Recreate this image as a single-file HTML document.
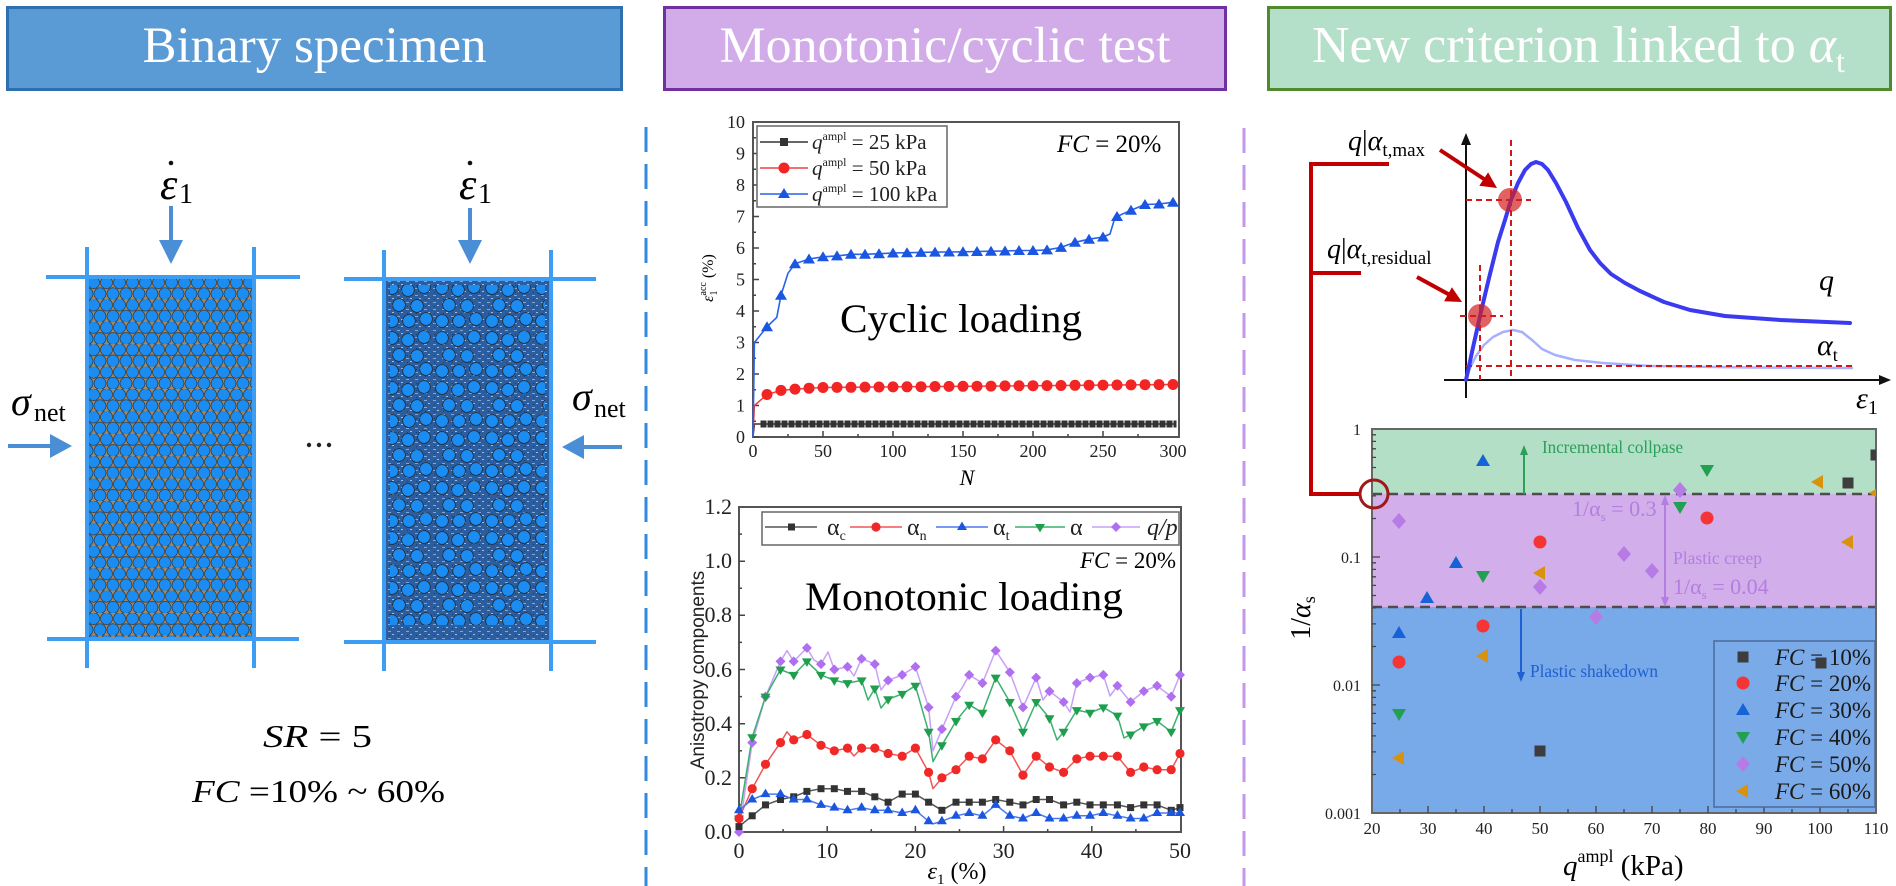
<!DOCTYPE html>
<html><head><meta charset="utf-8"><style>
html,body{margin:0;padding:0;background:#fff;overflow:hidden;}
svg{display:block;}
text{font-family:"Liberation Serif","DejaVu Serif",serif;}
.sans{font-family:"Liberation Sans","DejaVu Sans",sans-serif;}
</style></head><body>
<svg width="1896" height="886" viewBox="0 0 1896 886" xmlns="http://www.w3.org/2000/svg">
<defs>
 <pattern id="balls1" patternUnits="userSpaceOnUse" x="87" y="277" width="13" height="22.4">
  <rect width="13" height="22.4" fill="#a08866"/>
  <circle cx="6.5" cy="5.6" r="6" fill="#1b8cf2" stroke="#2a2a2a" stroke-width="0.6"/>
  <circle cx="0" cy="16.8" r="6" fill="#1b8cf2" stroke="#2a2a2a" stroke-width="0.6"/>
  <circle cx="13" cy="16.8" r="6" fill="#1b8cf2" stroke="#2a2a2a" stroke-width="0.6"/>
 </pattern>
 <pattern id="tex2" patternUnits="userSpaceOnUse" width="9" height="7">
  <rect width="9" height="7" fill="#2c5e9f"/>
  <rect x="1" y="1" width="3" height="1" fill="#7ea6d6"/>
  <rect x="5" y="4" width="2" height="1" fill="#9dbce2"/>
  <rect x="2" y="5" width="1" height="1" fill="#173e70"/>
 </pattern>
 <pattern id="balls2" patternUnits="userSpaceOnUse" x="384" y="280" width="50" height="50">
  <g fill="#1b8cf2" stroke="#1e1e1e" stroke-width="0.7">
   <circle cx="8" cy="8" r="6.3"/><circle cx="24" cy="10" r="6.3"/><circle cx="40" cy="7" r="6.3"/>
   <circle cx="15" cy="25" r="6.3"/><circle cx="33" cy="26" r="6.3"/>
   <circle cx="8" cy="41" r="6.3"/><circle cx="25" cy="41" r="6.3"/><circle cx="42" cy="39" r="6.3"/>
  </g>
 </pattern>
 <clipPath id="rc"><rect x="1372" y="429" width="504" height="384"/></clipPath>
 <marker id="tCi" markerUnits="userSpaceOnUse" markerWidth="12" markerHeight="12" refX="6" refY="6" overflow="visible"><circle cx="6" cy="6" r="5.5" fill="#f22424"/></marker>
 <marker id="tTr" markerUnits="userSpaceOnUse" markerWidth="12" markerHeight="12" refX="6" refY="6" overflow="visible"><path d="M6,0.5 L12,10.5 L0,10.5Z" fill="#1a56e0"/></marker>
 <marker id="mC" markerUnits="userSpaceOnUse" markerWidth="8" markerHeight="8" refX="3.5" refY="3.5" overflow="visible"><rect x="0" y="0" width="7" height="7" fill="#333"/></marker>
 <marker id="mN" markerUnits="userSpaceOnUse" markerWidth="10" markerHeight="10" refX="5" refY="5" overflow="visible"><circle cx="5" cy="5" r="4.6" fill="#f02828"/></marker>
 <marker id="mT" markerUnits="userSpaceOnUse" markerWidth="10" markerHeight="10" refX="5" refY="5.5" overflow="visible"><path d="M5,0 L10,8.5 L0,8.5Z" fill="#1a56e0"/></marker>
 <marker id="mA" markerUnits="userSpaceOnUse" markerWidth="10" markerHeight="10" refX="5" refY="3.5" overflow="visible"><path d="M5,9 L10,0.5 L0,0.5Z" fill="#1f9e4e"/></marker>
 <marker id="mQ" markerUnits="userSpaceOnUse" markerWidth="10" markerHeight="10" refX="5" refY="5" overflow="visible"><path d="M5,0 L10,5 L5,10 L0,5Z" fill="#b06ef0"/></marker>
</defs>

<!-- Headers -->
<rect x="7.5" y="7.5" width="614" height="82" fill="#5b9bd5" stroke="#2e6fb0" stroke-width="3"/>
<text x="314.5" y="62" font-size="51" fill="#fff" text-anchor="middle" textLength="344" lengthAdjust="spacingAndGlyphs">Binary specimen</text>
<rect x="664.5" y="7.5" width="561" height="82" fill="#d1ace9" stroke="#7030a0" stroke-width="3"/>
<text x="945" y="62" font-size="51" fill="#fff" text-anchor="middle" textLength="451" lengthAdjust="spacingAndGlyphs">Monotonic/cyclic test</text>
<rect x="1268.5" y="7.5" width="622" height="82" fill="#b4dfc8" stroke="#4f8a2e" stroke-width="3"/>
<text x="1312" y="62" font-size="52" fill="#fff">New criterion linked to <tspan font-style="italic">α</tspan><tspan font-size="32" dy="10">t</tspan></text>

<!-- Left panel: specimens -->
<rect x="87" y="277" width="167" height="362" fill="url(#balls1)"/>
<rect x="384" y="279" width="167" height="363" fill="url(#tex2)"/>
<rect x="390" y="285" width="155" height="340" fill="url(#balls2)"/>
<g stroke="#3d9df3" stroke-width="4" fill="none">
 <line x1="46" y1="277" x2="300" y2="277"/>
 <line x1="47" y1="639" x2="299" y2="639"/>
 <line x1="87" y1="247" x2="87" y2="668"/>
 <line x1="254" y1="247" x2="254" y2="668"/>
 <line x1="344" y1="279" x2="596" y2="279"/>
 <line x1="344" y1="642" x2="596" y2="642"/>
 <line x1="384" y1="250" x2="384" y2="671"/>
 <line x1="551" y1="250" x2="551" y2="671"/>
</g>
<!-- arrows -->
<g fill="#4a8fd6" stroke="#4a8fd6">
 <line x1="171" y1="206" x2="171" y2="242" stroke-width="4"/>
 <path d="M159,240 L183,240 L171,264Z" stroke="none"/>
 <line x1="470" y1="208" x2="470" y2="242" stroke-width="4"/>
 <path d="M458,240 L482,240 L470,264Z" stroke="none"/>
 <line x1="8" y1="446" x2="52" y2="446" stroke-width="4"/>
 <path d="M50,434 L50,458 L72,446Z" stroke="none"/>
 <line x1="622" y1="447" x2="582" y2="447" stroke-width="4"/>
 <path d="M584,435 L584,459 L562,447Z" stroke="none"/>
</g>
<!-- epsilon dot labels -->
<text x="160" y="199" font-size="44" font-style="italic">ε</text><text x="179" y="203" font-size="28">1</text>
<circle cx="171" cy="163" r="2.3" fill="#111"/>
<text x="459" y="199" font-size="44" font-style="italic">ε</text><text x="478" y="203" font-size="28">1</text>
<circle cx="470" cy="163" r="2.3" fill="#111"/>
<text x="11" y="415" font-size="40" font-style="italic">σ</text><text x="34" y="421" font-size="26">net</text>
<text x="572" y="410" font-size="40" font-style="italic">σ</text><text x="594" y="417" font-size="26">net</text>
<g fill="#222"><circle cx="309" cy="445" r="2.2"/><circle cx="319" cy="445" r="2.2"/><circle cx="329" cy="445" r="2.2"/></g>
<text x="263" y="747" font-size="32" textLength="109" lengthAdjust="spacingAndGlyphs"><tspan font-style="italic">SR</tspan> = 5</text>
<text x="192" y="802" font-size="32" textLength="253" lengthAdjust="spacingAndGlyphs"><tspan font-style="italic">FC</tspan> =10% ~ 60%</text>

<!-- separators -->
<line x1="646" y1="127" x2="646" y2="886" stroke="#2f8ae0" stroke-width="3" stroke-dasharray="25 12"/>
<line x1="1244" y1="128" x2="1244" y2="886" stroke="#c497ea" stroke-width="3" stroke-dasharray="25 12"/>

<!-- Top middle chart -->
<rect x="753" y="122" width="426" height="315" fill="#fff" stroke="#555" stroke-width="2"/>
<path d="M753,437h6M753,405.5h6M753,374h6M753,342.5h6M753,311h6M753,279.5h6M753,248h6M753,216.5h6M753,185h6M753,153.5h6
M753,421.25h3M753,389.75h3M753,358.25h3M753,326.75h3M753,295.25h3M753,263.75h3M753,232.25h3M753,200.75h3M753,169.25h3M753,137.75h3
M823,437v-6M893,437v-6M963,437v-6M1033,437v-6M1103,437v-6M788,437v-3M858,437v-3M928,437v-3M998,437v-3M1068,437v-3M1138,437v-3" stroke="#444" stroke-width="1.5"/>
<g font-size="18" text-anchor="end" fill="#222">
 <text x="745" y="443">0</text><text x="745" y="411.5">1</text><text x="745" y="380">2</text><text x="745" y="348.5">3</text>
 <text x="745" y="317">4</text><text x="745" y="285.5">5</text><text x="745" y="254">6</text><text x="745" y="222.5">7</text>
 <text x="745" y="191">8</text><text x="745" y="159.5">9</text><text x="745" y="128">10</text>
</g>
<g font-size="18" text-anchor="middle" fill="#222">
 <text x="753" y="457">0</text><text x="823" y="457">50</text><text x="893" y="457">100</text><text x="963" y="457">150</text>
 <text x="1033" y="457">200</text><text x="1103" y="457">250</text><text x="1173" y="457">300</text>
</g>
<text x="967" y="485" font-size="22" font-style="italic" text-anchor="middle">N</text>
<text transform="translate(713,278) rotate(-90)" font-size="16" text-anchor="middle"><tspan font-style="italic">ε</tspan><tspan font-size="10" dy="4">1</tspan><tspan font-size="10" dx="-5" dy="-11">acc</tspan><tspan dy="7"> (%)</tspan></text>
<text x="840" y="332" font-size="40" textLength="242" lengthAdjust="spacingAndGlyphs">Cyclic loading</text>
<text x="1057" y="152" font-size="25"><tspan font-style="italic">FC</tspan> = 20%</text>
<!-- series -->
<polyline points="753,437 754.4,424 1176,424" fill="none" stroke="#333" stroke-width="1.5"/>
<line x1="760.5" y1="424" x2="1176.5" y2="424" stroke="#333" stroke-width="7" stroke-dasharray="6 1"/>
<polyline points="753,437 754.4,405.5 767,394.5 781,390.4 795,389.1 809,388.2 823,387.5 1173,384.5" fill="none" stroke="#f04040" stroke-width="1.5"/>
<polyline points="767,394.5 781,390.4 795,389.1 809,388.2 823,387.5 837,387.4 851,387.3 865,387.1 879,387 893,386.9 907,386.8 921,386.7 935,386.5 949,386.4 963,386.3 977,386.2 991,386.1 1005,385.9 1019,385.8 1033,385.7 1047,385.6 1061,385.5 1075,385.3 1089,385.2 1103,385.1 1117,385 1131,384.9 1145,384.7 1159,384.6 1173,384.5" fill="none" stroke="none" marker-start="url(#tCi)" marker-mid="url(#tCi)" marker-end="url(#tCi)"/>
<polyline points="753,437 754.4,342.5 767,326.75 776.8,317.3 781,295.25 788,273.2 795,263.75 809,259 823,256.8 837,255.9 851,254.3 865,254.3 879,253.7 893,253 907,252.7 921,252.4 935,252.1 949,252 963,251.8 977,251.5 991,251.2 1005,251 1019,250.5 1033,250.5 1047,249.9 1061,247.4 1075,242.3 1089,239.2 1103,237 1110,234 1114.2,220 1117,216.5 1131,210.2 1145,204.5 1159,204 1173,202.3" fill="none" stroke="#2a62e8" stroke-width="1.6"/>
<polyline points="767,326.75 781,295.25 795,263.75 809,259 823,256.8 837,255.9 851,254.3 865,254.3 879,253.7 893,253 907,252.7 921,252.4 935,252.1 949,252 963,251.8 977,251.5 991,251.2 1005,251 1019,250.5 1033,250.5 1047,249.9 1061,247.4 1075,242.3 1089,239.2 1103,237 1117,216.5 1131,210.2 1145,204.5 1159,204 1173,202.3" fill="none" stroke="none" marker-start="url(#tTr)" marker-mid="url(#tTr)" marker-end="url(#tTr)"/>
<!-- legend -->
<rect x="757" y="126" width="190" height="81" fill="#fff" stroke="#666" stroke-width="1.5"/>
<line x1="760" y1="142" x2="808" y2="142" stroke="#333" stroke-width="1.5"/><rect x="780" y="138" width="8" height="8" fill="#333"/>
<line x1="760" y1="168" x2="808" y2="168" stroke="#f04040" stroke-width="1.5"/><circle cx="784" cy="168" r="5.5" fill="#f22424"/>
<line x1="760" y1="194" x2="808" y2="194" stroke="#2a62e8" stroke-width="1.5"/><path d="M784,188 L790,198 L778,198Z" fill="#1a56e0"/>
<g font-size="21" fill="#222">
 <text x="812" y="149"><tspan font-style="italic">q</tspan><tspan font-size="12" dy="-9">ampl</tspan><tspan dy="9"> = 25 kPa</tspan></text>
 <text x="812" y="175"><tspan font-style="italic">q</tspan><tspan font-size="12" dy="-9">ampl</tspan><tspan dy="9"> = 50 kPa</tspan></text>
 <text x="812" y="201"><tspan font-style="italic">q</tspan><tspan font-size="12" dy="-9">ampl</tspan><tspan dy="9"> = 100 kPa</tspan></text>
</g>

<!-- Bottom middle chart -->
<rect x="739" y="507" width="442" height="325" fill="#fff" stroke="#555" stroke-width="2"/>
<path d="M739,777.8h6M739,723.7h6M739,669.5h6M739,615.3h6M739,561.2h6M739,804.9h3M739,750.8h3M739,696.6h3M739,642.4h3M739,588.3h3M739,534.1h3
M827.2,832v-6M915.4,832v-6M1003.6,832v-6M1091.8,832v-6M783.1,832v-3M871.3,832v-3M959.5,832v-3M1047.7,832v-3M1135.9,832v-3" stroke="#444" stroke-width="1.5"/>
<g font-size="22" text-anchor="end" fill="#222">
 <text x="732" y="839">0.0</text><text x="732" y="785">0.2</text><text x="732" y="731">0.4</text><text x="732" y="677">0.6</text>
 <text x="732" y="622">0.8</text><text x="732" y="568">1.0</text><text x="732" y="514">1.2</text>
</g>
<g font-size="22" text-anchor="middle" fill="#222">
 <text x="739" y="858">0</text><text x="827.2" y="858">10</text><text x="915.4" y="858">20</text><text x="1003.6" y="858">30</text><text x="1091.8" y="858">40</text><text x="1180" y="858">50</text>
</g>
<text x="957" y="879" font-size="24" text-anchor="middle"><tspan font-style="italic">ε</tspan><tspan font-size="15" dy="5">1</tspan><tspan dy="-5"> (%)</tspan></text>
<text class="sans" transform="translate(704,670) rotate(-90)" font-size="19" text-anchor="middle" fill="#222">Anisotropy components</text>
<text x="805" y="610" font-size="40" textLength="318" lengthAdjust="spacingAndGlyphs">Monotonic loading</text>
<text x="1080" y="568" font-size="23"><tspan font-style="italic">FC</tspan> = 20%</text>
<!-- series lines -->
<g fill="none" stroke-width="1.5" stroke-linejoin="round">
<polyline stroke="#c9a0f5" points="739,832 752.2,742.6 765.5,696.6 780.5,661.4 787,650.6 793.7,661.4 806.9,647.9 814,660 821,664.1 828,652 834.3,669.5 847.5,666.8 854,676 861.6,658.7 874.8,664.1 881,690 888.1,680.4 902.2,674.9 915.4,666.8 928.6,707.4 933,750.8 941.9,729.1 956,696.6 962,688 969.2,674.9 982.4,683.1 995.7,650.6 1009.8,672.2 1023,707.4 1036.2,677.6 1043,700 1049.5,691.2 1063.6,702 1070,712 1076.8,683.1 1090,677.6 1103.3,674.9 1110,696 1117.4,685.8 1130.6,702 1143.8,691.2 1157.1,685.8 1171.2,696.6 1180,674.9"/>
<polyline stroke="#3cb070" points="739,818.5 752.2,737.2 765.5,696.6 780.5,669.5 793.7,674.9 806.9,661.4 821,674.9 834.3,680.4 847.5,683.1 861.6,680.4 868,700 874.8,688.5 881,708 888.1,699.3 902.2,693.9 915.4,685.8 928.6,731.8 933,761.6 941.9,745.3 956,721 969.2,704.7 982.4,712.8 995.7,677.6 1009.8,702 1023,731.8 1036.2,702 1049.5,718.3 1057,740 1063.6,731.8 1076.8,710.1 1090,712.8 1103.3,707.4 1117.4,715.6 1124,738 1130.6,734.5 1143.8,726.4 1157.1,721 1171.2,731.8 1180,710.1"/>
<polyline stroke="#f25555" points="739,818.5 752.2,788.7 765.5,764.3 780.5,742.6 787,731.8 793.7,739.9 806.9,734.5 821,745.3 834.3,750.8 847.5,748.1 854,756 861.6,748.1 874.8,748.1 888.1,753.5 902.2,756.2 915.4,748.1 928.6,772.4 933,788.7 941.9,777.8 956,769.7 969.2,756.2 982.4,758.9 995.7,739.9 1009.8,750.8 1023,775.1 1036.2,756.2 1049.5,767 1063.6,772.4 1076.8,758.9 1090,756.2 1103.3,756.2 1117.4,756.2 1130.6,772.4 1143.8,767 1157.1,769.7 1171.2,769.7 1180,753.5"/>
<polyline stroke="#555" points="739,826.6 752.2,815.8 765.5,804.9 780.5,799.5 793.7,796.8 806.9,791.4 821,788.7 834.3,788.7 847.5,791.4 861.6,791.4 874.8,796.8 888.1,802.2 902.2,794.1 915.4,794.1 928.6,802.2 941.9,810.3 956,802.2 969.2,802.2 982.4,802.2 995.7,799.5 1009.8,802.2 1023,804.9 1036.2,799.5 1049.5,799.5 1063.6,804.9 1076.8,802.2 1090,804.9 1103.3,804.9 1117.4,804.9 1130.6,807.6 1143.8,804.9 1157.1,804.9 1171.2,810.3 1180,807.6"/>
<polyline stroke="#4a7af0" points="739,810.3 752.2,799.5 765.5,794.1 780.5,794.1 793.7,799.5 806.9,799.5 821,804.9 834.3,807.6 847.5,810.3 861.6,807.6 874.8,810.3 888.1,810.3 902.2,813 915.4,810.3 928.6,821.2 933,823.9 941.9,821.2 956,815.8 969.2,813 982.4,815.8 995.7,804.9 1009.8,815.8 1023,818.5 1036.2,813 1049.5,818.5 1063.6,818.5 1076.8,815.8 1090,815.8 1103.3,813 1117.4,815.8 1130.6,818.5 1143.8,818.5 1157.1,813 1171.2,813 1180,813"/>
</g>
<g fill="none" stroke="none">
<polyline marker-start="url(#mQ)" marker-mid="url(#mQ)" marker-end="url(#mQ)" points="739,832 752.2,742.6 765.5,696.6 780.5,661.4 793.7,661.4 806.9,647.9 821,664.1 834.3,669.5 847.5,666.8 861.6,658.7 874.8,664.1 888.1,680.4 902.2,674.9 915.4,666.8 928.6,707.4 941.9,729.1 956,696.6 969.2,674.9 982.4,683.1 995.7,650.6 1009.8,672.2 1023,707.4 1036.2,677.6 1049.5,691.2 1063.6,702 1076.8,683.1 1090,677.6 1103.3,674.9 1117.4,685.8 1130.6,702 1143.8,691.2 1157.1,685.8 1171.2,696.6 1180,674.9"/>
<polyline marker-start="url(#mA)" marker-mid="url(#mA)" marker-end="url(#mA)" points="739,818.5 752.2,737.2 765.5,696.6 780.5,669.5 793.7,674.9 806.9,661.4 821,674.9 834.3,680.4 847.5,683.1 861.6,680.4 874.8,688.5 888.1,699.3 902.2,693.9 915.4,685.8 928.6,731.8 941.9,745.3 956,721 969.2,704.7 982.4,712.8 995.7,677.6 1009.8,702 1023,731.8 1036.2,702 1049.5,718.3 1063.6,731.8 1076.8,710.1 1090,712.8 1103.3,707.4 1117.4,715.6 1130.6,734.5 1143.8,726.4 1157.1,721 1171.2,731.8 1180,710.1"/>
<polyline marker-start="url(#mN)" marker-mid="url(#mN)" marker-end="url(#mN)" points="739,818.5 752.2,788.7 765.5,764.3 780.5,742.6 793.7,739.9 806.9,734.5 821,745.3 834.3,750.8 847.5,748.1 861.6,748.1 874.8,748.1 888.1,753.5 902.2,756.2 915.4,748.1 928.6,772.4 941.9,777.8 956,769.7 969.2,756.2 982.4,758.9 995.7,739.9 1009.8,750.8 1023,775.1 1036.2,756.2 1049.5,767 1063.6,772.4 1076.8,758.9 1090,756.2 1103.3,756.2 1117.4,756.2 1130.6,772.4 1143.8,767 1157.1,769.7 1171.2,769.7 1180,753.5"/>
<polyline marker-start="url(#mC)" marker-mid="url(#mC)" marker-end="url(#mC)" points="739,826.6 752.2,815.8 765.5,804.9 780.5,799.5 793.7,796.8 806.9,791.4 821,788.7 834.3,788.7 847.5,791.4 861.6,791.4 874.8,796.8 888.1,802.2 902.2,794.1 915.4,794.1 928.6,802.2 941.9,810.3 956,802.2 969.2,802.2 982.4,802.2 995.7,799.5 1009.8,802.2 1023,804.9 1036.2,799.5 1049.5,799.5 1063.6,804.9 1076.8,802.2 1090,804.9 1103.3,804.9 1117.4,804.9 1130.6,807.6 1143.8,804.9 1157.1,804.9 1171.2,810.3 1180,807.6"/>
<polyline marker-start="url(#mT)" marker-mid="url(#mT)" marker-end="url(#mT)" points="739,810.3 752.2,799.5 765.5,794.1 780.5,794.1 793.7,799.5 806.9,799.5 821,804.9 834.3,807.6 847.5,810.3 861.6,807.6 874.8,810.3 888.1,810.3 902.2,813 915.4,810.3 928.6,821.2 941.9,821.2 956,815.8 969.2,813 982.4,815.8 995.7,804.9 1009.8,815.8 1023,818.5 1036.2,813 1049.5,818.5 1063.6,818.5 1076.8,815.8 1090,815.8 1103.3,813 1117.4,815.8 1130.6,818.5 1143.8,818.5 1157.1,813 1171.2,813 1180,813"/>
</g>
<!-- legend bottom chart -->
<rect x="762" y="512" width="417" height="33" fill="#fff" stroke="#666" stroke-width="1.5"/>
<g stroke-width="1.5">
 <line x1="765" y1="527" x2="817" y2="527" stroke="#555"/><rect x="788" y="523.5" width="7" height="7" fill="#333"/>
 <line x1="850" y1="527" x2="902" y2="527" stroke="#f25555"/><circle cx="876" cy="527" r="4.6" fill="#f02828"/>
 <line x1="936" y1="527" x2="988" y2="527" stroke="#4a7af0"/><path d="M962,521.5 L967,530 L957,530Z" fill="#1a56e0"/>
 <line x1="1015" y1="527" x2="1065" y2="527" stroke="#3cb070"/><path d="M1040,532.5 L1045,524 L1035,524Z" fill="#1f9e4e"/>
 <line x1="1092" y1="527" x2="1140" y2="527" stroke="#c9a0f5"/><path d="M1116,522 L1121,527 L1116,532 L1111,527Z" fill="#b06ef0"/>
</g>
<g font-size="24" fill="#222">
 <text x="827" y="535">α<tspan font-size="14" dy="5">c</tspan></text>
 <text x="907" y="535">α<tspan font-size="14" dy="5">n</tspan></text>
 <text x="993" y="535">α<tspan font-size="14" dy="5">t</tspan></text>
 <text x="1070" y="535">α</text>
 <text x="1147" y="535" font-style="italic">q/p</text>
</g>

<!-- Right panel: schematic -->
<path d="M1389,164 H1311 V494 H1360 M1311,273 H1361" fill="none" stroke="#c00000" stroke-width="4"/>
<g stroke="#111" stroke-width="2" fill="#111">
 <line x1="1466" y1="398" x2="1466" y2="140"/>
 <path d="M1466,133 L1461,145 L1471,145Z" stroke="none"/>
 <line x1="1444" y1="380" x2="1884" y2="380"/>
 <path d="M1891,380 L1879,375 L1879,385Z" stroke="none"/>
</g>
<polyline points="1466,380 1470,368 1476,356 1484,345 1493,337 1503,332 1513,330 1522,332 1532,340 1542,349 1555,355 1575,360 1603,363 1650,366 1750,367.5 1853,368" fill="none" stroke="#a6b0ff" stroke-width="2.5" stroke-linejoin="round"/>
<g stroke="#d01818" stroke-width="2" stroke-dasharray="6 4" fill="none">
 <line x1="1511" y1="140" x2="1511" y2="380"/>
 <line x1="1480" y1="265" x2="1480" y2="380"/>
 <line x1="1466" y1="200" x2="1531" y2="200"/>
 <line x1="1460" y1="316" x2="1503" y2="316"/>
 <line x1="1466" y1="366" x2="1853" y2="366"/>
</g>
<polyline points="1466,380 1472,352 1480,316 1489,278 1498,242 1505,220 1511,200 1518,183 1525,170 1531,164 1536,162 1542,164 1548,170 1556,183 1566,202 1578,228 1590,250 1600,263 1611,274 1625,283 1640,291 1664,302 1690,310 1725,316 1780,320 1850,323" fill="none" stroke="#3a3af0" stroke-width="4" stroke-linejoin="round" stroke-linecap="round"/>
<circle cx="1510" cy="200" r="12" fill="#d32020" fill-opacity="0.7"/>
<circle cx="1480" cy="316" r="12" fill="#d32020" fill-opacity="0.7"/>
<g stroke="#c00000" stroke-width="4" fill="#c00000">
 <line x1="1440" y1="150" x2="1484" y2="179"/>
 <path d="M1497,188 L1479.3,185.8 L1488.1,172.4Z" stroke="none"/>
 <line x1="1417" y1="277" x2="1449" y2="294.5"/>
 <path d="M1462,302 L1444.1,301.2 L1451.9,287.2Z" stroke="none"/>
</g>
<text x="1348" y="150" font-size="28"><tspan font-style="italic">q</tspan>|<tspan font-style="italic">α</tspan><tspan font-size="19" dy="6">t,max</tspan></text>
<text x="1327" y="258" font-size="28"><tspan font-style="italic">q</tspan>|<tspan font-style="italic">α</tspan><tspan font-size="19" dy="6">t,residual</tspan></text>
<text x="1819" y="290" font-size="30" font-style="italic">q</text>
<text x="1817" y="355" font-size="30"><tspan font-style="italic">α</tspan><tspan font-size="18" dy="6">t</tspan></text>
<text x="1856" y="408" font-size="30"><tspan font-style="italic">ε</tspan><tspan font-size="20" dy="6">1</tspan></text>

<!-- Right bottom chart -->
<rect x="1372" y="429" width="504" height="65" fill="#b2dfc6"/>
<rect x="1372" y="494" width="504" height="113" fill="#d2aeea"/>
<rect x="1372" y="607" width="504" height="206" fill="#78a9e8"/>
<g stroke="#4d4d4d" stroke-width="2.5" stroke-dasharray="10 6">
 <line x1="1372" y1="494" x2="1876" y2="494"/>
 <line x1="1372" y1="607" x2="1876" y2="607"/>
</g>
<rect x="1372" y="429" width="504" height="384" fill="none" stroke="#666" stroke-width="2"/>
<path d="M1372,557h8M1372,685h8M1372,774.5h4M1372,751.9h4M1372,735.9h4M1372,723.5h4M1372,713.4h4M1372,704.8h4M1372,697.4h4M1372,690.8h4
M1372,646.5h4M1372,623.9h4M1372,607.9h4M1372,595.5h4M1372,585.4h4M1372,576.8h4M1372,569.4h4M1372,562.8h4
M1372,518.5h4M1372,495.9h4M1372,479.9h4M1372,467.5h4M1372,457.4h4M1372,448.8h4M1372,441.4h4M1372,434.8h4
M1400,813v-4M1428,813v-7M1456,813v-4M1484,813v-7M1512,813v-4M1540,813v-7M1568,813v-4M1596,813v-7M1624,813v-4M1652,813v-7M1680,813v-4M1708,813v-7M1736,813v-4M1764,813v-7M1792,813v-4M1820,813v-7M1848,813v-4" stroke="#444" stroke-width="1.3"/>
<g font-size="16" text-anchor="end" fill="#222">
 <text x="1361" y="435">1</text><text x="1361" y="563">0.1</text><text x="1361" y="691">0.01</text><text x="1361" y="819">0.001</text>
</g>
<g font-size="17" text-anchor="middle" fill="#222">
 <text x="1372" y="834">20</text><text x="1428" y="834">30</text><text x="1484" y="834">40</text><text x="1540" y="834">50</text><text x="1596" y="834">60</text>
 <text x="1652" y="834">70</text><text x="1708" y="834">80</text><text x="1764" y="834">90</text><text x="1820" y="834">100</text><text x="1876" y="834">110</text>
</g>
<text transform="translate(1310,618) rotate(-90)" font-size="28" text-anchor="middle">1/<tspan font-style="italic">α</tspan><tspan font-size="18" dy="5">s</tspan></text>
<text x="1563" y="875" font-size="29"><tspan font-style="italic">q</tspan><tspan font-size="18" dy="-13">ampl</tspan><tspan dy="13"> (kPa)</tspan></text>
<!-- annotations -->
<g stroke="#2aa05a" stroke-width="2" fill="#2aa05a">
 <line x1="1524" y1="494" x2="1524" y2="452"/><path d="M1524,445 L1520,455 L1528,455Z" stroke="none"/>
</g>
<text x="1542" y="453" font-size="18" fill="#2aa05a" textLength="141" lengthAdjust="spacingAndGlyphs">Incremental collpase</text>
<g stroke="#b37ee0" stroke-width="2" fill="#b37ee0">
 <line x1="1665" y1="502" x2="1665" y2="600"/>
 <path d="M1665,495 L1661,505 L1669,505Z" stroke="none"/><path d="M1665,607 L1661,597 L1669,597Z" stroke="none"/>
</g>
<text x="1572" y="516" font-size="22" fill="#b37ee0">1/α<tspan font-size="13" dy="5">s</tspan><tspan dy="-5"> = 0.3</tspan></text>
<text x="1673" y="564" font-size="18" fill="#b37ee0" textLength="89" lengthAdjust="spacingAndGlyphs">Plastic creep</text>
<text x="1673" y="594" font-size="22" fill="#b37ee0">1/α<tspan font-size="13" dy="5">s</tspan><tspan dy="-5"> = 0.04</tspan></text>
<g stroke="#2060d0" stroke-width="2" fill="#2060d0">
 <line x1="1521" y1="609" x2="1521" y2="675"/><path d="M1521,682 L1517,672 L1525,672Z" stroke="none"/>
</g>
<text x="1530" y="677" font-size="18" fill="#2060d0" textLength="128" lengthAdjust="spacingAndGlyphs">Plastic shakedown</text>
<!-- legend -->
<rect x="1714" y="641" width="161" height="166" fill="#7aaae8" stroke="#4a6a9a" stroke-width="1.5"/>
<rect x="1737.5" y="651.5" width="11" height="11" fill="#3d3d3d"/>
<circle cx="1743" cy="683" r="6.5" fill="#f53535"/>
<path d="M1743,703 L1750,715 L1736,715Z" fill="#1662d8"/>
<path d="M1743,744 L1750,732 L1736,732Z" fill="#22a052"/>
<path d="M1743,756 L1750,764 L1743,772 L1736,764Z" fill="#b77be6"/>
<path d="M1736,791 L1748,784 L1748,798Z" fill="#d8920c"/>
<g font-size="23" fill="#1a1a1a">
 <text x="1775" y="665"><tspan font-style="italic">FC</tspan> = 10%</text>
 <text x="1775" y="691"><tspan font-style="italic">FC</tspan> = 20%</text>
 <text x="1775" y="718"><tspan font-style="italic">FC</tspan> = 30%</text>
 <text x="1775" y="745"><tspan font-style="italic">FC</tspan> = 40%</text>
 <text x="1775" y="772"><tspan font-style="italic">FC</tspan> = 50%</text>
 <text x="1775" y="799"><tspan font-style="italic">FC</tspan> = 60%</text>
</g>
<!-- data -->
<g clip-path="url(#rc)">
 <g fill="#3d3d3d">
  <rect x="1842.5" y="477.5" width="11" height="11"/><rect x="1870.5" y="449.5" width="11" height="11"/>
  <rect x="1534.5" y="745.5" width="11" height="11"/><rect x="1815.5" y="657.5" width="11" height="11"/>
 </g>
 <g fill="#f53535">
  <circle cx="1399" cy="662" r="6.5"/><circle cx="1483" cy="626" r="6.5"/><circle cx="1540" cy="542" r="6.5"/><circle cx="1707" cy="518" r="6.5"/>
 </g>
 <path fill="#1662d8" d="M1483,454 L1490,466 L1476,466Z M1456,556 L1463,568 L1449,568Z M1427,591 L1434,603 L1420,603Z M1399,626 L1406,638 L1392,638Z"/>
 <path fill="#22a052" d="M1707,477 L1714,465 L1700,465Z M1680,514 L1687,502 L1673,502Z M1483,583 L1490,571 L1476,571Z M1399,721 L1406,709 L1392,709Z"/>
 <path fill="#b77be6" d="M1680,482 L1687,490 L1680,498 L1673,490Z M1399,513 L1406,521 L1399,529 L1392,521Z M1624,546 L1631,554 L1624,562 L1617,554Z M1652,563 L1659,571 L1652,579 L1645,571Z M1540,579 L1547,587 L1540,595 L1533,587Z M1596,609 L1603,617 L1596,625 L1589,617Z"/>
 <path fill="#d8920c" d="M1811,482 L1823,475 L1823,489Z M1869,493 L1881,486 L1881,500Z M1841,542 L1853,535 L1853,549Z M1533,573 L1545,566 L1545,580Z M1476,656 L1488,649 L1488,663Z M1392,758 L1404,751 L1404,765Z"/>
</g>
<!-- bracket circle on top -->
<circle cx="1374" cy="494" r="14" fill="none" stroke="#a01818" stroke-width="3"/>
</svg>
</body></html>
